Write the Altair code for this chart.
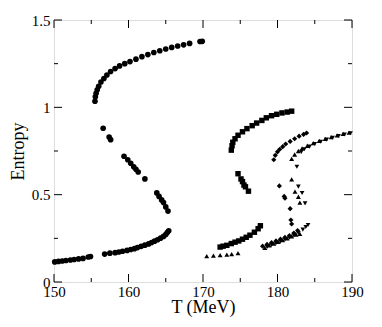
import altair as alt
import pandas as pd

# ---- data ----
circ_T = [150.1, 150.6, 151.1, 151.6, 152.2, 152.7, 153.3, 153.9, 154.6, 154.9,
          156.8, 157.5, 158.2, 158.7, 159.2, 159.8, 160.3, 160.8, 161.2, 161.7,
          162.2, 162.7, 163.1, 163.5, 163.9, 164.3, 164.7, 165.0, 165.2, 165.4,
          165.3, 165.0, 164.7, 164.45, 164.1, 163.8, 162.2, 161.3, 161.0, 160.7,
          160.3, 159.9, 159.4, 157.6, 157.4, 156.6,
          155.5, 155.55, 155.65, 155.8, 156.0, 156.3, 156.7, 157.1, 157.6, 158.2,
          158.8, 159.5, 160.2, 161.0, 161.8, 162.6, 163.4, 164.2, 165.0, 165.8,
          166.6, 167.4, 168.2, 169.6, 169.9]
circ_S = [0.115, 0.118, 0.12, 0.123, 0.126, 0.129, 0.132, 0.135, 0.143, 0.146,
          0.16, 0.165, 0.168, 0.172, 0.176, 0.181, 0.186, 0.191, 0.197, 0.204,
          0.211, 0.218, 0.226, 0.234, 0.242, 0.251, 0.261, 0.272, 0.283, 0.293,
          0.406, 0.43, 0.455, 0.47, 0.49, 0.51, 0.59, 0.63, 0.645, 0.66,
          0.68, 0.70, 0.72, 0.815, 0.83, 0.88,
          1.035, 1.06, 1.08, 1.10, 1.12, 1.145, 1.165, 1.185, 1.205, 1.222,
          1.237, 1.25, 1.262, 1.276, 1.29, 1.302, 1.314, 1.324, 1.334, 1.343,
          1.351, 1.358, 1.366, 1.377, 1.378]

sq_T = [172.3, 172.7, 173.2, 173.8, 174.3, 174.8, 175.3, 175.8, 176.3, 176.9, 177.4, 177.7,
        176.1, 175.7, 175.5, 175.3, 175.1, 174.7,
        173.8, 173.9, 174.0, 174.3, 174.7, 175.3, 175.9, 176.6, 177.2, 177.9, 178.5,
        179.2, 179.9, 180.6, 181.3, 181.9]
sq_S = [0.20, 0.205, 0.21, 0.22, 0.228, 0.235, 0.245, 0.256, 0.268, 0.285, 0.305, 0.322,
        0.52, 0.545, 0.555, 0.575, 0.59, 0.62,
        0.755, 0.78, 0.80, 0.82, 0.84, 0.86, 0.878, 0.895, 0.91, 0.925, 0.94,
        0.952, 0.96, 0.968, 0.973, 0.978]

dia_T = [178.0, 178.6, 179.2, 179.8, 180.4, 181.0, 181.6, 182.2, 182.7,
         181.9, 181.8, 181.7, 181.0, 180.9, 180.25,
         179.5, 179.7, 180.0, 180.3, 180.7, 181.1, 181.7, 182.3, 182.9, 183.5, 183.9]
dia_S = [0.205, 0.215, 0.225, 0.235, 0.245, 0.255, 0.265, 0.28, 0.295,
         0.332, 0.355, 0.42, 0.48, 0.49, 0.55,
         0.70, 0.725, 0.745, 0.76, 0.775, 0.79, 0.805, 0.82, 0.835, 0.845, 0.853]

tu_T = [170.5, 171.4, 172.3, 173.2, 173.85, 174.7,
        178.3, 178.9, 179.5, 180.1, 180.7, 181.3, 181.9, 182.5, 183.0,
        183.0, 182.8, 182.35, 181.9,
        181.9, 182.3, 182.8, 183.3, 184.0, 184.8, 185.6, 186.4, 187.2, 188.0, 188.8, 189.6]
tu_S = [0.148, 0.151, 0.154, 0.157, 0.16, 0.165,
        0.195, 0.21, 0.22, 0.23, 0.24, 0.25, 0.262, 0.272, 0.275,
        0.454, 0.488, 0.517, 0.588,
        0.705, 0.73, 0.75, 0.765, 0.78, 0.795, 0.808, 0.82, 0.83, 0.84, 0.848, 0.855]

td_T = [178.6, 179.2, 179.8, 180.4, 181.0, 181.6, 182.2, 182.8, 183.4, 183.8, 184.1,
        183.7, 183.3, 182.8, 182.6,
        183.2, 183.6, 184.3, 185.0, 185.8, 186.6, 187.4, 188.2, 189.0, 189.8]
td_S = [0.20, 0.212, 0.222, 0.232, 0.243, 0.253, 0.266, 0.28, 0.30, 0.315, 0.326,
        0.45, 0.51, 0.546, 0.66,
        0.745, 0.76, 0.775, 0.79, 0.803, 0.815, 0.826, 0.836, 0.845, 0.852]

series_names = ["circle", "square", "diamond", "triangle-up", "triangle-down"]
series_T = [circ_T, sq_T, dia_T, tu_T, td_T]
series_S = [circ_S, sq_S, dia_S, tu_S, td_S]
series_size = [32, 22, 32, 34, 34]

x_major = [150, 160, 170, 180, 190]
x_minor = [155, 165, 175, 185]
y_major = [0, 0.5, 1, 1.5]
y_minor = [0.25, 0.75, 1.25]

rows = []
for name, Ts, Ss in zip(series_names, series_T, series_S):
    for t, s in zip(Ts, Ss):
        rows.append({"T": t, "S": s, "series": name})
df = pd.DataFrame(rows)

W, H = 298, 262
FONT = "Liberation Serif"

xs = alt.Scale(domain=[150, 190], nice=False, zero=False)
ys = alt.Scale(domain=[0, 1.5], nice=False)

ax_x = alt.Axis(values=x_major, tickSize=0, domain=False, grid=False,
                labelFont=FONT, labelFontSize=15, labelColor="black",
                labelPadding=14, labelBaseline="alphabetic", labelFlush=False, format="d",
                titleFont=FONT, titleFontSize=18, titleFontWeight="normal",
                titleColor="black", titleBaseline="alphabetic", titleY=30)
ax_y = alt.Axis(values=y_major, tickSize=0, domain=False, grid=False,
                labelFont=FONT, labelFontSize=15, labelColor="black",
                labelPadding=4, labelFlush=False, format="~g",
                titleFont=FONT, titleFontSize=18, titleFontWeight="normal",
                titleColor="black", titleBaseline="alphabetic", titleX=-31)
XT = "T (MeV)"
YT = "Entropy"

points = alt.Chart(df).mark_point(filled=True, opacity=1, color="black").encode(
    x=alt.X("T:Q", scale=xs, title=XT, axis=ax_x),
    y=alt.Y("S:Q", scale=ys, title=YT, axis=ax_y),
    shape=alt.Shape("series:N", scale=alt.Scale(domain=series_names, range=series_names), legend=None),
    size=alt.Size("series:N", scale=alt.Scale(domain=series_names, range=series_size), legend=None),
)

def xticks(vals, length):
    d = pd.DataFrame({"v": vals})
    base = alt.Chart(d).mark_rule(color="black", strokeWidth=1)
    bottom = base.encode(x=alt.X("v:Q", scale=xs, title=XT, axis=ax_x),
                         y=alt.value(H), y2=alt.value(H - length))
    top = base.encode(x=alt.X("v:Q", scale=xs, title=XT, axis=ax_x),
                      y=alt.value(0), y2=alt.value(length))
    return [bottom, top]

def yticks(vals, length):
    d = pd.DataFrame({"v": vals})
    base = alt.Chart(d).mark_rule(color="black", strokeWidth=1)
    left = base.encode(y=alt.Y("v:Q", scale=ys, title=YT, axis=ax_y),
                       x=alt.value(0), x2=alt.value(length))
    right = base.encode(y=alt.Y("v:Q", scale=ys, title=YT, axis=ax_y),
                        x=alt.value(W), x2=alt.value(W - length))
    return [left, right]

layers = [points] + xticks(x_major, 8) + xticks(x_minor, 4) + yticks(y_major, 8) + yticks(y_minor, 4)

chart = alt.layer(*layers).properties(
    width=W, height=H,
    autosize=alt.AutoSizeParams(type="none"),
    padding={"left": 46, "top": 12, "right": 22, "bottom": 37},
).configure_view(stroke="black", strokeWidth=2).configure(background="white")

chart.save("out.html", embed_options={"renderer": "svg", "actions": False})
